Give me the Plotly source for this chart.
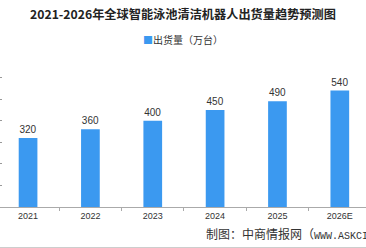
import plotly.graph_objects as go

categories = ["2021", "2022", "2023", "2024", "2025", "2026E"]
values = [320, 360, 400, 450, 490, 540]
series_name = "出货量（万台）"
title_text = "2021-2026年全球智能泳池清洁机器人出货量趋势预测图"
source_prefix = "制图：中商情报网（"
source_site = "WWW.ASKCI.COM）"

BLUE = "#3b99f0"
CJK = "Noto Sans CJK SC"

fig = go.Figure()
fig.add_trace(go.Bar(
    x=categories, y=values, name=series_name,
    marker=dict(color=BLUE, line=dict(width=0)),
    width=0.3,
    text=[str(v) for v in values], textposition="outside",
    textfont=dict(size=10, color="#333333", family="Liberation Sans"),
    cliponaxis=False, showlegend=False,
))

fig.update_layout(
    width=366, height=248,
    margin=dict(l=0, r=0, t=56, b=41),
    paper_bgcolor="white", plot_bgcolor="white",
    showlegend=False,
    title=dict(text="<b>" + title_text + "</b>", x=0.5, xanchor="center", y=1 - 15 / 248,
               yanchor="middle", yref="container",
               font=dict(size=12.2, family=CJK, color="#222222")),
)

fig.update_xaxes(
    type="category", range=[-0.45, 5.42],
    showline=True, linecolor="#aaaaaa", linewidth=1,
    ticks="outside", tickson="boundaries", ticklen=3, tickcolor="#aaaaaa",
    tickfont=dict(size=9, family="Liberation Sans", color="#333333"),
    showgrid=False,
)
fig.update_yaxes(
    range=[0, 700], dtick=100, showgrid=False, zeroline=False,
    ticks="inside", ticklen=2, tickcolor="#999999",
    showticklabels=False, showline=False,
)

# legend drawn as text with a coloured square glyph
fig.add_annotation(
    text='<span style="color:%s">■</span>%s' % (BLUE, series_name),
    xref="paper", yref="paper", x=0.5, y=1 + (56 - 40) / 151,
    xanchor="center", yanchor="middle", showarrow=False,
    font=dict(size=10, family=CJK, color="#333333"),
)

fig.add_annotation(
    text='%s<span style="font-family:Liberation Mono;font-size:10px">%s</span>'
         % (source_prefix, source_site),
    xref="paper", yref="paper", x=0.557, y=-0.175,
    xanchor="left", yanchor="middle", showarrow=False,
    font=dict(size=12, family=CJK, color="#333333"))
fig.add_shape(type="line", xref="paper", yref="paper", x0=0, x1=1, y0=-0.27, y1=-0.27,
              line=dict(color="#bbbbbb", width=1))

fig.write_html("out.html")
